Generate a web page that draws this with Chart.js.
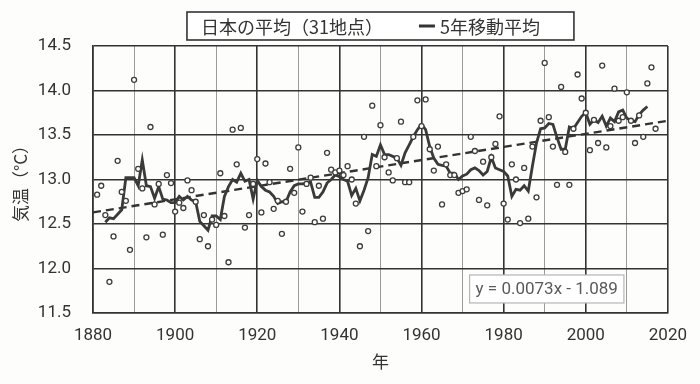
<!DOCTYPE html>
<html>
<head>
<meta charset="utf-8">
<script src="https://cdn.jsdelivr.net/npm/chart.js@4.4.1/dist/chart.umd.min.js"></script>
<style>
  html, body { margin: 0; padding: 0; background: #fdfdfc; }
  #wrap { width: 700px; height: 384px; position: relative; }
</style>
</head>
<body>
<div id="wrap"><canvas id="c" width="700" height="384"></canvas></div>
<script>
// ---- data ----
const seriesLabels = ['日本の平均（31地点）', '5年移動平均'];
const trendText = 'y = 0.0073x - 1.089';
const xTickStart = 1880, xTickEnd = 2020;
const yTickMin = 11.5, yTickMax = 14.5;

const firstYear = 1881;
const annualTemps = [
  12.83, 12.93, 12.60, 11.85, 12.36, 13.21, 12.86, 12.76, 12.21, 14.12, // 1881-1890
  13.12, 12.90, 12.35, 13.59, 12.72, 12.95, 12.38, 13.05, 12.96, 12.64, // 1891-1900
  12.74, 12.68, 12.99, 12.88, 12.75, 12.33, 12.60, 12.25, 12.55, 12.49, // 1901-1910
  13.07, 12.59, 12.07, 13.56, 13.17, 13.58, 12.46, 12.60, 12.95, 13.23, // 1911-1920
  12.63, 13.18, 12.97, 12.67, 12.76, 12.39, 12.75, 13.12, 12.85, 13.36, // 1921-1930
  12.64, 12.95, 13.02, 12.52, 12.93, 12.56, 13.30, 13.11, 13.08, 13.10, // 1931-1940
  13.05, 13.15, 13.00, 12.73, 12.25, 13.48, 12.42, 13.83, 13.15, 13.61, // 1941-1950
  13.25, 13.08, 12.99, 13.24, 13.65, 12.97, 12.97, 13.48, 13.89, 13.60, // 1951-1960
  13.90, 13.34, 13.10, 13.37, 12.72, 13.17, 13.05, 13.05, 12.85, 12.87, // 1961-1970
  12.89, 13.48, 13.32, 12.77, 13.20, 12.71, 13.25, 13.40, 13.71, 12.73, // 1971-1980
  12.55, 13.17, 13.00, 12.51, 13.13, 12.56, 13.37, 12.80, 13.66, 14.31, // 1981-1990
  13.70, 13.37, 12.94, 14.04, 13.31, 12.94, 13.57, 14.18, 13.91, 13.75, // 1991-2000
  13.33, 13.67, 13.41, 14.28, 13.36, 13.60, 14.02, 13.66, 13.70, 13.98, // 2001-2010
  13.66, 13.41, 13.72, 13.48, 14.08, 14.26, 13.57                       // 2011-2017
];

const maFirstYear = 1883;
const movingAvg = [
  12.52, 12.57, 12.56, 12.61, 12.66, 13.02, 13.02, 13.02,               // 1883-1890
  12.93, 13.22, 12.93, 12.92, 12.79, 12.92, 12.78, 12.77, 12.74, 12.74, // 1891-1900
  12.81, 12.77, 12.81, 12.77, 12.75, 12.53, 12.48, 12.43, 12.59, 12.59, // 1901-1910
  12.55, 12.81, 12.92, 13.00, 12.97, 13.07, 12.98, 13.00, 12.78, 12.99, // 1911-1920
  12.92, 12.88, 12.86, 12.81, 12.73, 12.75, 12.75, 12.86, 12.93, 12.95, // 1921-1930
  12.95, 12.96, 12.97, 12.80, 12.80, 12.86, 12.96, 13.00, 13.05, 13.03, // 1931-1940
  13.00, 12.98, 12.82, 12.90, 12.76, 12.88, 13.02, 13.28, 13.26, 13.39, // 1941-1950
  13.28, 13.28, 13.26, 13.24, 13.16, 13.30, 13.39, 13.48, 13.56, 13.62, // 1951-1960
  13.56, 13.37, 13.24, 13.17, 13.16, 13.15, 13.07, 13.07, 13.00, 13.04, // 1961-1970
  13.06, 13.11, 13.13, 13.10, 13.05, 13.09, 13.25, 13.13, 13.11, 13.09, // 1971-1980
  13.04, 12.81, 12.89, 12.88, 12.93, 12.87, 13.15, 13.41, 13.57, 13.58, // 1981-1990
  13.63, 13.62, 13.47, 13.34, 13.34, 13.59, 13.57, 13.64, 13.71, 13.75, // 1991-2000
  13.62, 13.67, 13.64, 13.71, 13.60, 13.69, 13.65, 13.76, 13.78, 13.69, // 2001-2010
  13.66, 13.65, 13.73, 13.78, 13.82                                     // 2011-2015
];

// trend line endpoints
const trendYears = [1880, 2020];
const trendValues = [12.63, 13.66];

// ---- build chart ----
const scatterPts = annualTemps.map((v, i) => ({ x: firstYear + i, y: v }));
const maPts = movingAvg.map((v, i) => ({ x: maFirstYear + i, y: v }));
const trendPts = trendYears.map((yr, i) => ({ x: yr, y: trendValues[i] }));

const INK = '#333333';
const numFont = { family: 'Roboto, "Liberation Sans", sans-serif', size: 17 };
const cjkFont = '"Noto Sans CJK JP", "Noto Sans", sans-serif';

const overlayPlugin = {
  id: 'overlay',
  afterDraw(chart) {
    const ctx = chart.ctx;
    const area = chart.chartArea;
    const xs = chart.scales.x, ys = chart.scales.y;

    // trend label box
    ctx.save();
    ctx.font = '17px Roboto, "Liberation Sans", sans-serif';
    const tw = ctx.measureText(trendText).width;
    const cx = xs.getPixelForValue(1990.5);
    const cy = ys.getPixelForValue(11.77);
    const bw = tw + 12, bh = 28;
    ctx.fillStyle = '#ffffff';
    ctx.fillRect(cx - bw / 2, cy - bh / 2, bw, bh);
    ctx.strokeStyle = '#b5b5b5';
    ctx.lineWidth = 1.2;
    ctx.strokeRect(cx - bw / 2, cy - bh / 2, bw, bh);
    ctx.fillStyle = '#5a5a5a';
    ctx.textAlign = 'center';
    ctx.textBaseline = 'middle';
    ctx.fillText(trendText, cx, cy + 1);
    ctx.restore();

    // legend box
    ctx.save();
    ctx.font = '18px ' + cjkFont;
    const l0 = chart.data.datasets[0].label;
    const l1 = chart.data.datasets[1].label;
    const w0 = ctx.measureText(l0).width;
    const w1 = ctx.measureText(l1).width;
    const gap = 36, mark = 16, mgap = 5, padL = 14, padR = 34;
    const total = padL + w0 + gap + mark + mgap + w1 + padR;
    const centerX = (area.left + area.right) / 2;
    const bx = centerX - total / 2;
    const by = 12, bh2 = 28;
    ctx.fillStyle = '#ffffff';
    ctx.fillRect(bx, by, total, bh2);
    ctx.strokeStyle = INK;
    ctx.lineWidth = 1.6;
    ctx.strokeRect(bx, by, total, bh2);
    ctx.fillStyle = INK;
    ctx.textAlign = 'left';
    ctx.textBaseline = 'middle';
    const ty = by + bh2 / 2 + 1;
    ctx.fillText(l0, bx + padL, ty);
    const mx = bx + padL + w0 + gap;
    ctx.beginPath();
    ctx.moveTo(mx, ty - 1);
    ctx.lineTo(mx + mark, ty - 1);
    ctx.lineWidth = 3;
    ctx.strokeStyle = INK;
    ctx.stroke();
    ctx.fillText(l1, mx + mark + mgap, ty);
    ctx.restore();
  }
};

new Chart(document.getElementById('c'), {
  type: 'scatter',
  data: {
    datasets: [
      {
        label: seriesLabels[0],
        data: scatterPts,
        showLine: false,
        pointRadius: 2.5,
        pointBorderWidth: 1.3,
        pointBorderColor: '#3c3c3c',
        pointBackgroundColor: '#ffffff',
        order: 1
      },
      {
        label: seriesLabels[1],
        type: 'line',
        data: maPts,
        showLine: true,
        borderColor: '#3a3a3a',
        borderWidth: 2.8,
        pointRadius: 0,
        tension: 0,
        order: 2
      },
      {
        label: 'trend',
        type: 'line',
        data: trendPts,
        showLine: true,
        borderColor: '#333',
        borderWidth: 2.4,
        borderDash: [8, 5],
        pointRadius: 0,
        order: 3
      }
    ]
  },
  options: {
    responsive: false,
    animation: false,
    devicePixelRatio: 1,
    layout: { padding: { left: 6, right: 27, top: 46, bottom: 0 } },
    plugins: {
      legend: { display: false },
      tooltip: { enabled: false }
    },
    scales: {
      x: {
        type: 'linear',
        min: xTickStart,
        max: xTickEnd,
        afterFit(scale) { scale.height = 71; },
        ticks: {
          stepSize: 10,
          padding: 13,
          color: INK,
          font: numFont,
          maxRotation: 0,
          autoSkip: false,
          callback: (v) => (v % 20 === 0 ? String(v) : '')
        },
        grid: {
          drawTicks: false,
          color: (c) => (c.tick && c.tick.value % 20 === 0 ? INK : '#9a9a9a'),
          lineWidth: (c) => (c.tick && c.tick.value % 20 === 0 ? 1.6 : 1)
        },
        border: { display: true, color: INK, width: 1.6 },
        title: {
          display: true,
          text: '年',
          color: INK,
          font: { family: cjkFont, size: 17 },
          padding: { top: 0, bottom: 12 }
        }
      },
      y: {
        min: yTickMin,
        max: yTickMax,
        afterFit(scale) { scale.width = 87; },
        ticks: {
          stepSize: 0.5,
          padding: 22,
          color: INK,
          font: numFont,
          callback: (v) => Number(v).toFixed(1)
        },
        grid: {
          drawTicks: false,
          color: INK,
          lineWidth: 1.6
        },
        border: { display: true, color: INK, width: 1.6 },
        title: {
          display: true,
          text: '気温（°C）',
          color: INK,
          font: { family: cjkFont, size: 17 },
          padding: { top: 4, bottom: 4 }
        }
      }
    }
  },
  plugins: [overlayPlugin]
});
</script>
</body>
</html>
